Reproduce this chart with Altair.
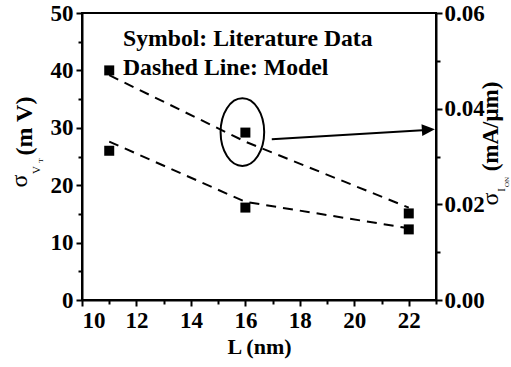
import altair as alt
import pandas as pd

# ---- data ----
L_data = [11, 16, 22]
sigma_vt_data = [26.0, 16.1, 12.3]          # mV (left axis)
sigma_ion_data = [0.0480, 0.0350, 0.0181]   # mA/um (right axis)

L_model = [11, 16, 22]
sigma_vt_model = [27.6, 17.1, 12.5]
sigma_ion_model = [0.0470, 0.0331, 0.0193]

# annotation (ellipse around the 16 nm I_ON point and arrow to right axis)
ellipse_L = [15.89]
ellipse_ion = [0.0351]
arrow_L = [16.97]
arrow_L2 = [22.50]
arrow_ion = [0.0336]
arrow_ion2 = [0.0355]
head_L = [22.72]
head_ion = [0.0356]

x_ticks = list(range(10, 24))
yl_ticks = list(range(0, 55, 5))
yr_ticks = [0.0, 0.01, 0.02, 0.03, 0.04, 0.05, 0.06]

FONT = "Liberation Serif, Times New Roman, Times, serif"

df_data = pd.DataFrame({"L": L_data, "sv": sigma_vt_data, "si": sigma_ion_data})
df_model = pd.DataFrame({"L": L_model, "sv": sigma_vt_model, "si": sigma_ion_model})
df_ell = pd.DataFrame({"L": ellipse_L, "si": ellipse_ion})
df_arrow = pd.DataFrame({"L": arrow_L, "L2": arrow_L2, "si": arrow_ion, "si2": arrow_ion2})
df_head = pd.DataFrame({"L": head_L, "si": head_ion})
df_one = pd.DataFrame({"a": [0]})

x_enc = alt.X(
    "L:Q",
    scale=alt.Scale(domain=[10, 23], nice=False, zero=False),
    axis=alt.Axis(
        values=x_ticks,
        labelExpr="(datum.value % 2 === 0 && datum.value <= 22) ? datum.label : ''",
        tickSize={"condition": {"test": "datum.value % 2 === 0", "value": 6}, "value": 4},
        title="L (nm)",
        titlePadding=4,
        labelPadding=3,
    ),
)

yl_scale = alt.Scale(domain=[0, 50], nice=False, zero=True)
yl_axis = alt.Axis(
    orient="left",
    values=yl_ticks,
    labelExpr="datum.value % 10 === 0 ? datum.label : ''",
    tickSize={"condition": {"test": "datum.value % 10 === 0", "value": 6}, "value": 4},
    title=None,
    labelPadding=3,
)
yr_scale = alt.Scale(domain=[0, 0.06], nice=False, zero=True)
yr_axis = alt.Axis(
    orient="right",
    values=yr_ticks,
    format=".2f",
    labelExpr="round(datum.value * 100) % 2 === 0 ? datum.label : ''",
    tickSize={"condition": {"test": "round(datum.value * 100) % 2 === 0", "value": 6}, "value": 4},
    title=None,
    labelPadding=2,
)

# ---- left (sigma VT) layer ----
lower_line = alt.Chart(df_model).mark_line(
    color="black", strokeWidth=2, strokeDash=[10, 7]
).encode(x=x_enc, y=alt.Y("sv:Q", scale=yl_scale, axis=yl_axis))
lower_pts = alt.Chart(df_data).mark_square(
    color="black", size=100, opacity=1
).encode(x=x_enc, y=alt.Y("sv:Q", scale=yl_scale, axis=yl_axis))
left = alt.layer(lower_line, lower_pts)

# ---- right (sigma ION) layer ----
upper_line = alt.Chart(df_model).mark_line(
    color="black", strokeWidth=2, strokeDash=[10, 7]
).encode(x=x_enc, y=alt.Y("si:Q", scale=yr_scale, axis=yr_axis))
upper_pts = alt.Chart(df_data).mark_square(
    color="black", size=100, opacity=1
).encode(x=x_enc, y=alt.Y("si:Q", scale=yr_scale, axis=yr_axis))

ellipse_path = ("M 0.644 0 C 0.644 0.5523 0.3557 1 0 1 C -0.3557 1 -0.644 0.5523 -0.644 0 "
                "C -0.644 -0.5523 -0.3557 -1 0 -1 C 0.3557 -1 0.644 -0.5523 0.644 0 Z")
ellipse = alt.Chart(df_ell).mark_point(
    shape=ellipse_path, size=4583, filled=False, color="black", strokeWidth=2, opacity=1
).encode(x=x_enc, y=alt.Y("si:Q", scale=yr_scale, axis=yr_axis))

arrow_line = alt.Chart(df_arrow).mark_rule(color="black", strokeWidth=2).encode(
    x=x_enc, x2="L2:Q",
    y=alt.Y("si:Q", scale=yr_scale, axis=yr_axis), y2="si2:Q",
)
arrow_head = alt.Chart(df_head).mark_point(
    shape="M -1 -0.9 L 1 0 L -1 0.9 Z", size=169, filled=True, color="black",
    opacity=1, angle=356.5,
).encode(x=x_enc, y=alt.Y("si:Q", scale=yr_scale, axis=yr_axis))

right = alt.layer(upper_line, upper_pts, ellipse, arrow_line, arrow_head)

# ---- text annotations ----
def txt(text, x, y, size, weight="bold", angle=0, align="left", baseline="alphabetic"):
    return alt.Chart(df_one).mark_text(
        text=text, font=FONT, fontSize=size, fontWeight=weight, angle=angle,
        align=align, baseline=baseline, color="black",
    ).encode(x=alt.value(x), y=alt.value(y))

texts = alt.layer(
    txt("Symbol: Literature Data", 41, 33, 23.7),
    txt("Dashed Line: Model", 41, 62, 23.7),
    # left axis title: sigma_{V_T} (mV)
    txt("σ", -55, 168, 24, weight="normal", angle=270, align="center"),
    txt("V", -42, 157, 11, weight="normal", angle=270, align="center"),
    txt("T", -39, 147.5, 7, weight="normal", angle=270, align="center"),
    txt("(m V)", -50, 113, 24, angle=270, align="center"),
    # right axis title: sigma_{I_ON} (mA/um)
    txt("σ", 416, 186, 24, weight="normal", angle=270, align="center"),
    txt("I", 423, 177, 11, weight="normal", angle=270, align="center"),
    txt("ON", 427, 169, 7, weight="normal", angle=270, align="center"),
    txt("(mA/μm)", 416, 113.5, 23, angle=270, align="center"),
)

chart = alt.layer(left, right, texts).resolve_scale(y="independent").properties(
    width=354, height=287,
    padding={"left": 82, "top": 13, "right": 75, "bottom": 67},
    autosize=alt.AutoSizeParams(type="none"),
    background="white",
).configure_view(
    stroke="black", strokeWidth=2
).configure_axis(
    grid=False,
    domainColor="black", domainWidth=2,
    tickColor="black", tickWidth=2,
    labelFont=FONT, labelFontSize=23, labelFontWeight="bold", labelColor="black",
    titleFont=FONT, titleFontSize=22, titleFontWeight="bold", titleColor="black",
)

chart.save("out.html", embed_options={"renderer": "svg", "actions": False})
